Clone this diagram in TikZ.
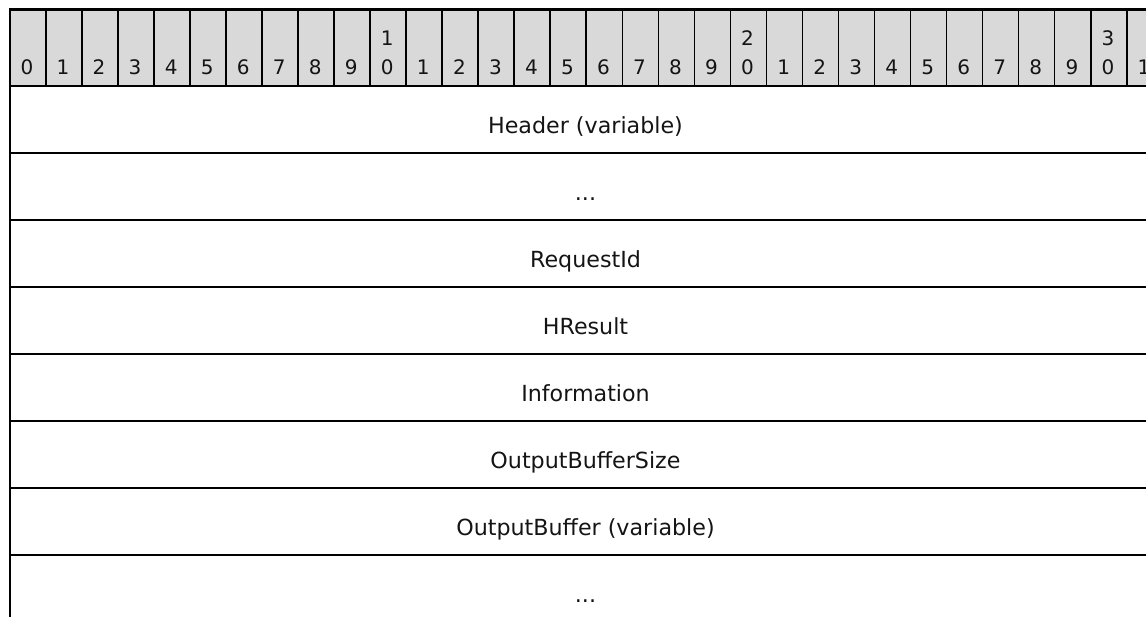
\documentclass[tikz,border=0pt]{standalone}
\usepackage{fontspec}
\setmainfont{DejaVu Sans}
\usetikzlibrary{positioning}
\definecolor{bitgray}{RGB}{217,217,217}
\definecolor{inkblack}{RGB}{20,20,20}
\newcommand{\fielddots}{...}

\begin{document}
\begin{tikzpicture}[
  x=1pt, y=-1pt,
  bitcell/.style={draw, fill=bitgray, line width=1.6pt, minimum width=36.03pt, minimum height=76pt, inner sep=0pt, anchor=north west},
  bitnum/.style={font=\fontsize{20}{29}\selectfont, text=inkblack, align=center, anchor=south, text depth=0pt, inner sep=0pt},
  fieldrow/.style={draw, line width=2pt, minimum width=1153pt, minimum height=67pt, inner sep=0pt, anchor=north west},
  fieldlabel/.style={font=\fontsize{22.2}{26}\selectfont, text=inkblack, anchor=base, inner sep=0pt}
]
\useasboundingbox (0,0) rectangle (1146,616);
\clip (0,0) rectangle (1146,616);

% bit ruler
\foreach \i in {0,...,31}{
  \pgfmathtruncatemacro\ones{mod(\i,10)}
  \pgfmathtruncatemacro\tens{\i/10}
  \ifnum\ones=0 \ifnum\tens>0 \def\bitlbl{\tens\\0}\else\def\bitlbl{0}\fi\else\def\bitlbl{\ones}\fi
  \node[bitcell] (b\i) at ({9+36.03*\i},9) {};
  \node[bitnum] (n\i) at ({27+36.03*\i},75) {\bitlbl};
}
\draw[line width=2pt] (b0.north west) -- (b31.north east);

% fields
\foreach \lbl [count=\k from 0] in {Header (variable), \fielddots, RequestId, HResult, Information, OutputBufferSize, OutputBuffer (variable), \fielddots}{
  \node[fieldrow] (row\k) at (9,{85+67*\k}) {};
  \node[fieldlabel] (lab\k) at ({585.5},{85+67*\k+48}) {\lbl};
}
\end{tikzpicture}
\end{document}
